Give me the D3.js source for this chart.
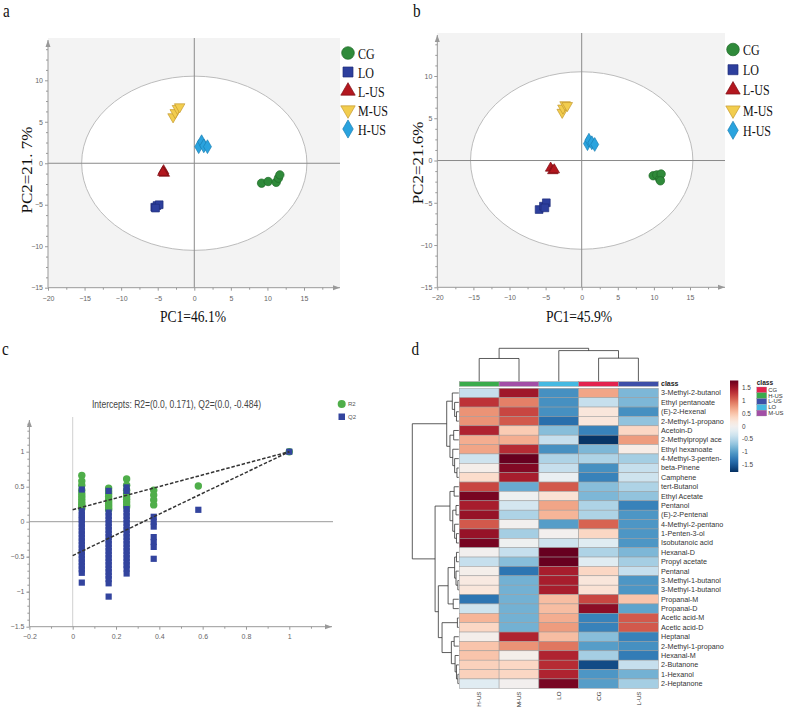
<!DOCTYPE html>
<html>
<head>
<meta charset="utf-8">
<script src="https://cdn.jsdelivr.net/npm/d3@7"></script>
<style>
  body { margin: 0; background: #fff; }
  svg { display: block; }
  text { font-family: "Liberation Sans", Arial, sans-serif; }
  .serif { font-family: "Liberation Serif", "Times New Roman", serif; }
</style>
</head>
<body>
<svg id="fig" width="788" height="708"></svg>
<script>
// ---- data ----
const groups = ['CG', 'LO', 'L-US', 'M-US', 'H-US']
const groupFill = ['#2f8a3a', '#2d3f9d', '#b3171f', '#f2cd4e', '#2aa3de']
const groupStroke = ['#1f6a28', '#1e2c7a', '#7d0f14', '#c49a30', '#1a7fb5']

// PCA scores [PC1, PC2], panel a
const aCG = [[9.2, -2.4], [10.1, -2.2], [11.2, -2.3], [11.5, -1.8], [11.7, -1.4]]
const aLO = [[-5.4, -5.3], [-5.1, -5.1], [-4.8, -5.0], [-5.3, -5.4]]
const aLUS = [[-4.2, -0.9], [-4.1, -1.2], [-4.3, -1.1]]
const aMUS = [[-2.9, 5.6], [-2.6, 6.1], [-2.3, 6.6], [-2.0, 6.8]]
const aHUS = [[0.6, 2.0], [1.0, 2.6], [1.3, 2.1], [1.8, 2.0]]

// PCA scores, panel b
const bCG = [[9.9, -1.8], [10.4, -1.7], [10.8, -2.2], [11.0, -1.6], [10.9, -2.4]]
const bLO = [[-5.9, -5.8], [-5.3, -5.4], [-4.9, -5.0], [-5.1, -5.6]]
const bLUS = [[-4.3, -0.9], [-4.0, -1.2], [-3.8, -1.1]]
const bMUS = [[-2.7, 5.7], [-2.6, 6.2], [-2.3, 6.6], [-2.0, 6.5]]
const bHUS = [[0.8, 2.0], [1.0, 2.4], [1.4, 2.1], [1.8, 1.9]]

const pcaTicks = [-20, -15, -10, -5, 0, 5, 10, 15]
const pcaYTicks = [-15, -10, -5, 0, 5, 10]

// permutation test (panel c)
const permX = [0.042, 0.166, 0.249, 0.374, 0.58, 1]
const permR2 = [
  [0.66, 0.58, 0.52, 0.45, 0.40, 0.36, 0.32, 0.28, 0.25, 0.22, 0.19],
  [0.48, 0.44, 0.40, 0.36, 0.32, 0.29, 0.26, 0.23, 0.20, 0.17],
  [0.61, 0.52, 0.45, 0.40, 0.36, 0.32, 0.28, 0.24, 0.21],
  [0.45, 0.38, 0.31, 0.24],
  [0.51],
  [1.0]
]
const permQ2 = [
  [0.46, 0.15, 0.10, 0.06, 0.02, -0.03, -0.08, -0.13, -0.18, -0.23, -0.28, -0.33, -0.38, -0.43, -0.48, -0.53, -0.58, -0.63, -0.68, -0.73, -0.87],
  [0.44, 0.13, 0.08, 0.03, -0.02, -0.07, -0.12, -0.17, -0.22, -0.27, -0.32, -0.37, -0.42, -0.47, -0.52, -0.57, -0.62, -0.67, -0.72, -0.77, -0.82, -0.88, -1.07],
  [0.49, 0.44, 0.18, 0.13, 0.08, 0.03, -0.02, -0.07, -0.12, -0.17, -0.22, -0.27, -0.32, -0.37, -0.42, -0.47, -0.52, -0.57, -0.62, -0.67, -0.74],
  [0.07, 0.0, -0.07, -0.22, -0.29, -0.36, -0.53],
  [0.17],
  [1.0]
]
const r2Intercept = 0.171
const q2Intercept = -0.484
const permXTicks = [-0.2, 0, 0.2, 0.4, 0.6, 0.8, 1]
const permYTicks = [-1.5, -1, -0.5, 0, 0.5, 1]

// heatmap (panel d)
const heatCols = ['H-US', 'M-US', 'LO', 'CG', 'L-US']
const heatRows = ['3-Methyl-2-butanol', 'Ethyl pentanoate', '(E)-2-Hexenal', '2-Methyl-1-propano',
  'Acetoin-D', '2-Methylpropyl ace', 'Ethyl hexanoate', '4-Methyl-3-penten-', 'beta-Pinene',
  'Camphene', 'tert-Butanol', 'Ethyl Acetate', 'Pentanol', '(E)-2-Pentenal', '4-Methyl-2-pentano',
  '1-Penten-3-ol', 'Isobutanoic acid', 'Hexanal-D', 'Propyl acetate', 'Pentanal',
  '3-Methyl-1-butanol', '3-Methyl-1-butanol', 'Propanal-M', 'Propanal-D', 'Acetic acid-M',
  'Acetic acid-D', 'Heptanal', '2-Methyl-1-propano', 'Hexanal-M', '2-Butanone', '1-Hexanol', '2-Heptanone']
const heatValues = [
  [-0.4, 1.5, -1.1, 0.7, -0.8],
  [1.3, 0.9, -1.1, -0.4, -0.8],
  [0.8, 1.2, -1.1, 0.2, -1.1],
  [0.8, 1.1, -1.35, 0.2, -0.7],
  [1.4, 0.45, -0.75, -1.2, 0.35],
  [0.65, 0.65, -0.4, -1.75, 0.75],
  [0.7, 1.35, -1.1, -0.8, 0.1],
  [-0.35, 1.8, -0.55, -0.55, -0.6],
  [0.05, 1.65, -0.4, -1.1, -0.4],
  [0.3, 1.45, -0.1, -1.2, -0.35],
  [1.2, -0.9, 1.1, -0.75, -0.55],
  [1.7, -0.05, 0.25, -0.8, -0.7],
  [1.45, -0.3, 0.7, -0.55, -1.2],
  [1.55, -0.55, 0.6, -0.55, -1.05],
  [1.1, 0.0, -1.0, 1.05, -1.05],
  [1.55, -0.6, 0.0, 0.35, -1.05],
  [1.7, -0.05, -0.35, -0.2, -1.05],
  [0.0, -0.4, 1.8, -0.55, -0.8],
  [-0.4, -0.75, 1.85, -0.2, -0.6],
  [0.05, -1.3, 1.45, 0.35, -0.4],
  [0.15, -0.85, 1.45, 0.2, -1.05],
  [0.2, -0.85, 1.45, 0.25, -1.05],
  [-1.3, -0.85, 0.55, 1.2, 0.5],
  [-0.35, -0.85, 0.55, 1.6, -0.95],
  [0.6, -0.85, 0.65, -1.2, 1.1],
  [0.35, -0.85, 0.75, -1.2, 1.1],
  [0.05, 1.4, 0.55, -0.75, -1.2],
  [0.5, 0.8, 0.95, -1.0, -1.1],
  [0.5, 0.05, 1.4, -0.6, -1.25],
  [0.4, 0.35, 1.35, -1.6, -0.4],
  [0.4, 0.35, 1.4, -1.05, -0.85],
  [-0.2, 0.0, 1.7, -1.0, -0.6]
]
// dendrograms: [height, left, right], leaves are indexes
const colTree = [10, [6.9, 0, 1], [9.3, 2, [7.0, 3, 4]]]
const rowTree = [10,
  [2.6, [1.4, 0, [0.9, 1, [0.5, 2, 3]]], [1.9, [1.1, 4, 5], [1.3, 6, [0.9, 7, [0.4, 8, 9]]]]],
  [5.1,
    [1.9, [1.0, 10, 11], [1.3, [0.6, 12, 13], [0.9, 14, [0.5, 15, 16]]]],
    [4.4,
      [2.3, [0.9, [0.5, 17, 18], [0.6, 19, [0.2, 20, 21]]], [1.2, 22, 23]],
      [3.6, [0.3, 24, 25], [1.6, [1.0, 26, 27], [0.8, 28, [0.5, 29, [0.2, 30, 31]]]]]]]]
const classNames = ['CG', 'H-US', 'L-US', 'LO', 'M-US']
const classColors = ['#e3234e', '#3aab4c', '#3d4fa8', '#45b9e2', '#a24ea6']
const colorTicks = [-1.5, -1, -0.5, 0, 0.5, 1, 1.5]

// ---- drawing ----
const svg = d3.select('#fig')

function serifText (sel, x, y, txt, size, rot) {
  return sel.append('text')
    .attr('class', 'serif')
    .attr('transform', `translate(${x},${y}) scale(0.8,1)` + (rot ? ` rotate(${rot})` : ''))
    .attr('font-size', size)
    .attr('fill', '#111')
    .text(txt)
}

function marker (i, size) {
  const types = [d3.symbolCircle, d3.symbolSquare, d3.symbolTriangle, d3.symbolTriangle, d3.symbolDiamond]
  return d3.symbol().type(types[i]).size(size)()
}

function arrowRight (g, x, y) {
  g.append('path').attr('d', `M${x - 7},${y - 2.5}L${x},${y}L${x - 7},${y + 2.5}Z`).attr('fill', '#999')
}
function arrowUp (g, x, y) {
  g.append('path').attr('d', `M${x - 2.5},${y + 7}L${x},${y}L${x + 2.5},${y + 7}Z`).attr('fill', '#999')
}

function styleAxis (ax) {
  ax.select('.domain').remove()
  ax.selectAll('line').attr('stroke', '#999')
  ax.selectAll('text').attr('fill', '#666').attr('font-size', 7)
  ax.attr('font-family', null)
}

function pcaPanel (o) {
  const g = svg.append('g')
  const x = d3.scaleLinear().domain([-20, 15]).range(o.xr)
  const y = d3.scaleLinear().domain([-15, 10]).range(o.yr)
  const left = x(-20)
  const bottom = y(-15)

  g.append('rect')
    .attr('x', left).attr('y', o.top)
    .attr('width', o.right - left).attr('height', bottom - o.top)
    .attr('fill', '#f3f3f3')

  g.append('ellipse')
    .attr('cx', x(0)).attr('cy', y(0))
    .attr('rx', x(15.4) - x(0)).attr('ry', y(0) - y(10.5))
    .attr('fill', '#fff').attr('stroke', '#bcbcbc').attr('stroke-width', 1)

  g.append('line').attr('x1', left).attr('x2', o.right).attr('y1', y(0)).attr('y2', y(0))
    .attr('stroke', '#8a8a8a')
  g.append('line').attr('x1', x(0)).attr('x2', x(0)).attr('y1', o.top).attr('y2', bottom)
    .attr('stroke', '#8a8a8a')

  // axes
  g.append('line').attr('x1', left).attr('x2', o.right).attr('y1', bottom).attr('y2', bottom).attr('stroke', '#999')
  g.append('line').attr('x1', left).attr('x2', left).attr('y1', o.top + 2).attr('y2', bottom).attr('stroke', '#999')
  arrowRight(g, o.right, bottom)
  arrowUp(g, left, o.top + 2)

  g.append('g').attr('transform', `translate(0,${bottom})`)
    .call(d3.axisBottom(x).tickValues(pcaTicks).tickSize(3).tickPadding(5))
    .call(styleAxis)
  g.append('g').attr('transform', `translate(0,${bottom})`)
    .call(d3.axisBottom(x).tickValues(d3.range(-17.5, 19, 5)).tickSize(2).tickFormat(''))
    .call(styleAxis)
  g.append('g').attr('transform', `translate(${left},0)`)
    .call(d3.axisLeft(y).tickValues(pcaYTicks).tickSize(3).tickPadding(2))
    .call(styleAxis)
  g.append('g').attr('transform', `translate(${left},0)`)
    .call(d3.axisLeft(y).tickValues(d3.range(-13.75, 14, 1.25).filter(v => Math.abs(v % 5) > 0.01)).tickSize(2).tickFormat(''))
    .call(styleAxis)

  // points
  o.scores.forEach((pts, i) => {
    g.selectAll(null)
      .data(pts)
      .enter().append('path')
      .attr('d', marker(i, [56, 60, 48, 48, 55][i]))
      .attr('transform', d => `translate(${x(d[0])},${y(d[1])})` + (i === 3 ? ' rotate(180)' : ''))
      .attr('fill', groupFill[i])
      .attr('stroke', groupStroke[i])
      .attr('stroke-width', 0.7)
  })

  // legend
  groups.forEach((name, i) => {
    const ly = o.legY + i * o.legDy
    g.append('path')
      .attr('d', marker(i, [125, 100, 90, 90, 95][i]))
      .attr('transform', `translate(${o.legX},${ly})` + (i === 3 ? ' rotate(180)' : ''))
      .attr('fill', groupFill[i])
      .attr('stroke', groupStroke[i])
      .attr('stroke-width', 0.7)
    serifText(g, o.legX + 10, ly + 5.5, name, 15)
  })

  serifText(g, o.xlab[0], o.xlab[1], o.xlabText, 17).attr('text-anchor', 'middle')
  serifText(g, o.ylab[0], o.ylab[1], o.ylabText, 17, -90).attr('text-anchor', 'middle')
  serifText(g, o.letter[0], o.letter[1], o.letterText, 19)
}

pcaPanel({
  xr: [48, 304], yr: [287.7, 80.3], top: 38, right: 340,
  scores: [aCG, aLO, aLUS, aMUS, aHUS],
  legX: 348, legY: 53, legDy: 19,
  xlab: [193, 322], xlabText: 'PC1=46.1%',
  ylab: [31.5, 170], ylabText: 'PC2=21. 7%',
  letter: [3, 17], letterText: 'a'
})

pcaPanel({
  xr: [437.3, 690], yr: [287.3, 76], top: 33, right: 725,
  scores: [bCG, bLO, bLUS, bMUS, bHUS],
  legX: 733, legY: 49.5, legDy: 20.2,
  xlab: [579, 322], xlabText: 'PC1=45.9%',
  ylab: [423, 163], ylabText: 'PC2=21.6%',
  letter: [413, 17], letterText: 'b'
})

// ---- panel c: permutation test ----
;(function () {
  const g = svg.append('g')
  const x = d3.scaleLinear().domain([0, 1]).range([72.7, 289.3])
  const y = d3.scaleLinear().domain([-1.5, 1]).range([626.7, 451.7])
  const left = x(-0.2)
  const bottom = y(-1.5)
  const right = 333

  g.append('line').attr('x1', x(0)).attr('x2', x(0)).attr('y1', 417).attr('y2', bottom).attr('stroke', '#d0d0d0')
  g.append('line').attr('x1', left).attr('x2', right).attr('y1', y(0)).attr('y2', y(0)).attr('stroke', '#9a9a9a')

  g.append('line').attr('x1', left).attr('x2', right - 1).attr('y1', bottom).attr('y2', bottom).attr('stroke', '#999')
  g.append('line').attr('x1', left).attr('x2', left).attr('y1', 420).attr('y2', bottom).attr('stroke', '#999')
  arrowRight(g, right - 1, bottom)
  arrowUp(g, left, 420)

  g.append('g').attr('transform', `translate(0,${bottom})`)
    .call(d3.axisBottom(x).tickValues(permXTicks).tickSize(3).tickPadding(4).tickFormat(d3.format('')))
    .call(styleAxis)
  g.append('g').attr('transform', `translate(0,${bottom})`)
    .call(d3.axisBottom(x).tickValues(d3.range(-0.1, 1.15, 0.2)).tickSize(2).tickFormat(''))
    .call(styleAxis)
  g.append('g').attr('transform', `translate(${left},0)`)
    .call(d3.axisLeft(y).tickValues(permYTicks).tickSize(3).tickPadding(2).tickFormat(d3.format('')))
    .call(styleAxis)
  g.append('g').attr('transform', `translate(${left},0)`)
    .call(d3.axisLeft(y).tickValues(d3.range(-1.4, 1.41, 0.1).filter(v => Math.abs((v * 10) % 5) > 0.01)).tickSize(2).tickFormat(''))
    .call(styleAxis)

  const r2Pts = permX.flatMap((px, i) => permR2[i].map(v => [px, v]))
  const q2Pts = permX.flatMap((px, i) => permQ2[i].map(v => [px, v]))

  g.selectAll('.r2').data(r2Pts).enter().append('circle')
    .attr('cx', d => x(d[0])).attr('cy', d => y(d[1])).attr('r', 3.7)
    .attr('fill', '#4fae4a')
  g.selectAll('.q2').data(q2Pts).enter().append('rect')
    .attr('x', d => x(d[0]) - 3.1).attr('y', d => y(d[1]) - 3.1)
    .attr('width', 6.2).attr('height', 6.2)
    .attr('fill', '#33449e')

  g.append('line').attr('x1', x(0)).attr('y1', y(r2Intercept)).attr('x2', x(1)).attr('y2', y(1))
    .attr('stroke', '#333').attr('stroke-width', 1.5).attr('stroke-dasharray', '3.5,1.8')
  g.append('line').attr('x1', x(0)).attr('y1', y(q2Intercept)).attr('x2', x(1)).attr('y2', y(1))
    .attr('stroke', '#333').attr('stroke-width', 1.5).attr('stroke-dasharray', '3.5,1.8')

  g.append('text').attr('x', 176.5).attr('y', 408).attr('text-anchor', 'middle')
    .attr('font-size', 10).attr('fill', '#444')
    .attr('textLength', 169).attr('lengthAdjust', 'spacingAndGlyphs')
    .text('Intercepts: R2=(0.0, 0.171), Q2=(0.0, -0.484)')

  g.append('circle').attr('cx', 341.7).attr('cy', 404).attr('r', 4).attr('fill', '#4fae4a')
  g.append('rect').attr('x', 338.5).attr('y', 413.5).attr('width', 6.5).attr('height', 6.5).attr('fill', '#33449e')
  g.append('text').attr('x', 348).attr('y', 406.3).attr('font-size', 6).attr('fill', '#555').text('R2')
  g.append('text').attr('x', 348).attr('y', 419).attr('font-size', 6).attr('fill', '#555').text('Q2')

  serifText(g, 2, 355, 'c', 19)
})()

// ---- panel d: heatmap ----
;(function () {
  const g = svg.append('g')
  const x = d3.scaleBand().domain(d3.range(heatCols.length)).range([459.3, 658.3])
  const y = d3.scaleBand().domain(d3.range(heatRows.length)).range([388.3, 688.3])
  const color = v => d3.interpolateRdBu((1.78 - v) / 3.56)

  // class bar
  const classIndex = heatCols.map(c => classNames.indexOf(c))
  g.selectAll('.cls').data(heatCols).enter().append('rect')
    .attr('x', (d, i) => x(i)).attr('y', 381.7)
    .attr('width', x.bandwidth()).attr('height', 4.6)
    .attr('fill', (d, i) => classColors[classIndex[i]])
    .attr('stroke', '#9a9a9a').attr('stroke-width', 0.5)
  g.append('text').attr('x', 661).attr('y', 386.3).attr('font-size', 7).attr('font-weight', 'bold')
    .attr('fill', '#222').text('class')

  // cells
  const cells = heatValues.flatMap((row, r) => row.map((v, c) => ({ r, c, v })))
  g.selectAll('.cell').data(cells).enter().append('rect')
    .attr('x', d => x(d.c)).attr('y', d => y(d.r))
    .attr('width', x.bandwidth()).attr('height', y.bandwidth())
    .attr('fill', d => color(d.v))
    .attr('stroke', '#9a9a9a').attr('stroke-width', 0.5)

  g.selectAll('.rl').data(heatRows).enter().append('text')
    .attr('x', 661).attr('y', (d, i) => y(i) + y.bandwidth() / 2 + 2.4)
    .attr('font-size', 7.2).attr('fill', '#333').text(d => d)

  g.selectAll('.cl').data(heatCols).enter().append('text')
    .attr('transform', (d, i) => `translate(${x(i) + x.bandwidth() / 2 + 2.2},${691.5}) rotate(-90)`)
    .attr('text-anchor', 'end').attr('font-size', 6.2).attr('fill', '#333').text(d => d)

  // dendrograms
  function drawTree (node, pos, hpos, vertical) {
    if (typeof node === 'number') return { p: pos(node), h: hpos(0) }
    const a = drawTree(node[1], pos, hpos, vertical)
    const b = drawTree(node[2], pos, hpos, vertical)
    const h = hpos(node[0])
    const pts = [[a.p, a.h], [a.p, h], [b.p, h], [b.p, b.h]]
    const d = 'M' + pts.map(q => vertical ? q.join(',') : [q[1], q[0]].join(',')).join('L')
    g.append('path').attr('d', d).attr('fill', 'none').attr('stroke', '#333').attr('stroke-width', 0.8)
    return { p: (a.p + b.p) / 2, h }
  }
  const colH = d3.scaleLinear().domain([0, 10]).range([381.2, 348.3])
  drawTree(colTree, i => x(i) + x.bandwidth() / 2, colH, true)
  const rowH = d3.scaleLinear().domain([0, 10]).range([458.8, 412.3])
  drawTree(rowTree, i => y(i) + y.bandwidth() / 2, rowH, false)

  // colour key
  const defs = svg.append('defs')
  const grad = defs.append('linearGradient').attr('id', 'heatGrad')
    .attr('x1', 0).attr('x2', 0).attr('y1', 1).attr('y2', 0)
  d3.range(0, 1.001, 0.05).forEach(t => {
    grad.append('stop').attr('offset', t).attr('stop-color', color(-1.78 + t * 3.56))
  })
  const k = d3.scaleLinear().domain([-1.78, 1.78]).range([472, 380.5])
  g.append('rect').attr('x', 730).attr('y', k(1.78)).attr('width', 8.3).attr('height', k(-1.78) - k(1.78))
    .attr('fill', 'url(#heatGrad)')
  g.selectAll('.ck').data(colorTicks).enter().append('text')
    .attr('x', 742).attr('y', d => k(d) + 2.3).attr('font-size', 6.4).attr('fill', '#444')
    .text(d => d)

  // class legend
  g.append('text').attr('x', 756.7).attr('y', 385).attr('font-size', 6.6).attr('font-weight', 'bold')
    .attr('fill', '#222').text('class')
  g.selectAll('.cs').data(classNames).enter().append('rect')
    .attr('x', 756.7).attr('y', (d, i) => 387 + i * 5.8).attr('width', 10).attr('height', 5.8)
    .attr('fill', (d, i) => classColors[i]).attr('stroke', '#999').attr('stroke-width', 0.3)
  g.selectAll('.ct').data(classNames).enter().append('text')
    .attr('x', 768.3).attr('y', (d, i) => 387 + i * 5.8 + 4.8).attr('font-size', 5.9).attr('fill', '#333')
    .text(d => d)

  serifText(g, 411.5, 355, 'd', 19)
})()
</script>
</body>
</html>
